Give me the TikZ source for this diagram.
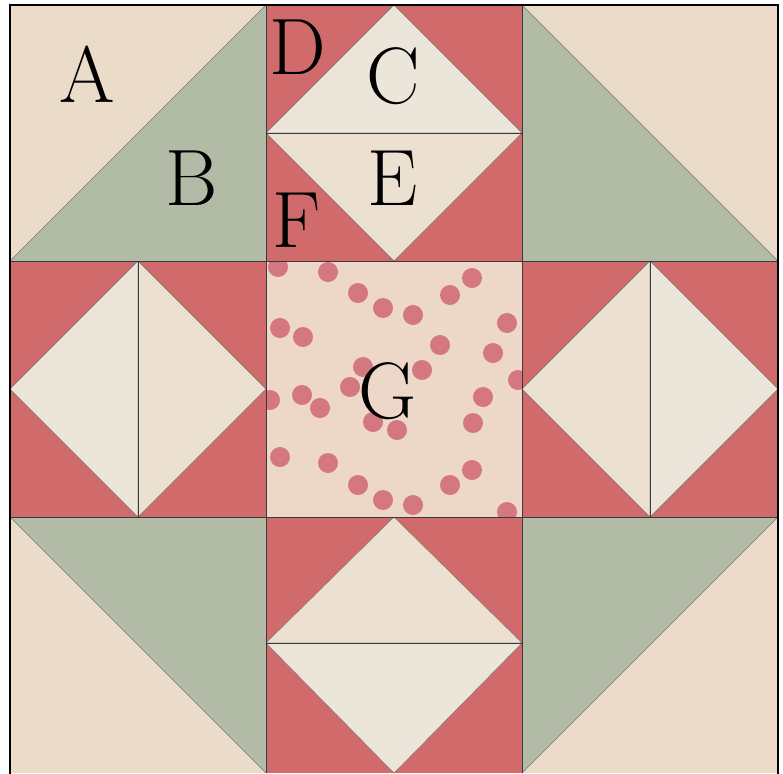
\documentclass[tikz,border=0pt]{standalone}
\usetikzlibrary{positioning}
\definecolor{fabricA}{HTML}{EBDCCA}
\definecolor{fabricB}{HTML}{B2BBA5}
\definecolor{fabricC}{HTML}{ECE6DA}
\definecolor{fabricE}{HTML}{ECE0D0}
\definecolor{fabricRed}{HTML}{D06A6B}
\definecolor{fabricG}{HTML}{EDD7C8}
\definecolor{berryRed}{HTML}{D0606E}
\definecolor{seamGray}{HTML}{3A3A3A}
\tikzstyle{seam} = [
    draw=seamGray,
    line width=1pt
]
\tikzstyle{frame} = [
    draw=black,
    line width=2.5pt
]
\tikzstyle{edge} = [
    draw=seamGray!70,
    line width=0.4pt
]
\tikzstyle{blocklabel} = [
    font=\fontsize{80}{80}\selectfont,
    inner sep=0pt,
    text=black
]
\tikzstyle{berry} = [
    fill=berryRed,
    opacity=0.8
]

\begin{document}
\begin{tikzpicture}[x=1pt, y=-1pt]

\useasboundingbox (0,0) rectangle (783,773);

% corner half-square triangles
\fill[fabricA] (10,5) -- (266,5) -- (10,261) -- cycle;
\fill[fabricB] (266,5) -- (266,261) -- (10,261) -- cycle;
\fill[fabricA] (522,5) -- (778,5) -- (778,261) -- cycle;
\fill[fabricB] (522,5) -- (522,261) -- (778,261) -- cycle;
\fill[fabricB] (10,517) -- (266,517) -- (266,773) -- cycle;
\fill[fabricA] (10,517) -- (10,773) -- (266,773) -- cycle;
\fill[fabricB] (522,517) -- (778,517) -- (522,773) -- cycle;
\fill[fabricA] (778,517) -- (778,773) -- (522,773) -- cycle;
\draw[edge] (10,261) -- (266,5);
\draw[edge] (522,5) -- (778,261);
\draw[edge] (10,517) -- (266,773);
\draw[edge] (778,517) -- (522,773);

% flying geese units
\fill[fabricRed] (266,5) rectangle (522,261);
\fill[fabricRed] (266,517) rectangle (522,773);
\fill[fabricRed] (10,261) rectangle (266,517);
\fill[fabricRed] (522,261) rectangle (778,517);

\filldraw[fabricC, edge] (266,133) -- (394,5) -- (522,133) -- cycle;
\filldraw[fabricE, edge] (266,133) -- (394,261) -- (522,133) -- cycle;
\filldraw[fabricE, edge] (266,643) -- (394,517) -- (522,643) -- cycle;
\filldraw[fabricC, edge] (266,643) -- (394,773) -- (522,643) -- cycle;
\filldraw[fabricC, edge] (138,261) -- (10,389) -- (138,517) -- cycle;
\filldraw[fabricE, edge] (138,261) -- (266,389) -- (138,517) -- cycle;
\filldraw[fabricE, edge] (650,261) -- (522,389) -- (650,517) -- cycle;
\filldraw[fabricC, edge] (650,261) -- (778,389) -- (650,517) -- cycle;

% centre square
\fill[fabricG] (266,261) rectangle (522,517);
\begin{scope}
\clip (266,261) rectangle (522,517);
\foreach \bx/\by in {278/267, 328/272, 358/293, 383/308, 413/315, 472/278,
    450/295, 507/323, 493/353, 440/345, 280/328, 303/337, 363/367, 422/370,
    350/387, 302/395, 320/408, 270/400, 373/422, 397/430, 473/423, 483/397,
    518/380, 280/457, 328/463, 358/485, 383/500, 413/505, 450/485, 472/470,
    507/512}
    \fill[berry] (\bx,\by) circle (10);
\end{scope}

% seams
\draw[seam] (266,5) -- (266,773);
\draw[seam] (522,5) -- (522,773);
\draw[seam] (10,261) -- (778,261);
\draw[seam] (10,517) -- (778,517);
\draw[seam] (266,133) -- (522,133);
\draw[seam] (266,643) -- (522,643);
\draw[seam] (138,261) -- (138,517);
\draw[seam] (650,261) -- (650,517);
\draw[frame] (10,780) -- (10,5) -- (778,5) -- (778,780);

% labels
\node (labelA) [blocklabel] at (87,74) {A};
\node (labelB) [blocklabel] at (192,178) {B};
\node (labelC) [blocklabel] at (393,76) {C};
\node (labelD) [blocklabel] at (298,47) {D};
\node (labelE) [blocklabel] at (393,178) {E};
\node (labelF) [blocklabel] at (297,220) {F};
\node (labelG) [blocklabel] at (388,391) {G};

\end{tikzpicture}
\end{document}
